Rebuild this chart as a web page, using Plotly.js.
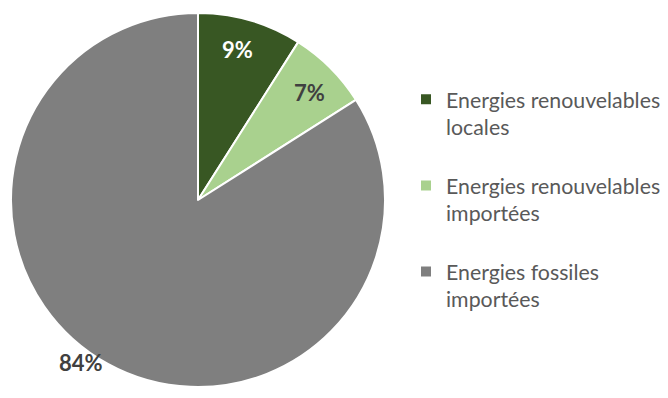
<!DOCTYPE html>
<html>
<head>
<meta charset="utf-8">
<script src="https://cdn.plot.ly/plotly-3.0.1.min.js"></script>
<style>html,body{margin:0;padding:0;background:#fff;}#chart{width:668px;height:398px;}</style>
</head>
<body>
<div id="chart"></div>
<script>
const categories = ["Energies renouvelables<br>locales<br>\u00a0", "Energies renouvelables<br>importées<br>\u00a0", "Energies fossiles<br>importées"];
const values = [9, 7, 84];
const colors = ["#385723", "#a9d18e", "#7f7f7f"];
const labelColors = ["#ffffff", "#404040", "#404040"];

const W = 668, H = 398;
const cx = 198, cy = 200, R = 187;

const trace = {
  type: "pie",
  labels: categories,
  values: values,
  textinfo: "none",
  sort: false,
  direction: "clockwise",
  rotation: 0,
  marker: {colors: colors, line: {color: "#ffffff", width: 2}},
  hoverinfo: "none",
  domain: {x: [(cx - R) / W, (cx + R) / W], y: [1 - (cy + R) / H, 1 - (cy - R) / H]}
};

// data labels placed along each slice's mid-angle
const total = values.reduce((a, b) => a + b, 0);
const radial = [0.83, 0.83, 1.07];
const angOffset = [-1.5, 1, 7];
let cum = 0;
const annotations = values.map((v, i) => {
  const mid = (cum + v / 2) / total * 360 + angOffset[i];
  cum += v;
  const th = mid * Math.PI / 180;
  const px = cx + radial[i] * R * Math.sin(th);
  const py = cy - radial[i] * R * Math.cos(th);
  return {
    x: px / W, y: 1 - py / H, xref: "paper", yref: "paper",
    xanchor: "center", yanchor: "middle", showarrow: false,
    text: Math.round(v / total * 100) + "%",
    font: {family: "Lato, sans-serif", size: 22, color: labelColors[i], weight: "bold"}
  };
});

const layout = {
  width: W, height: H,
  margin: {l: 0, r: 0, t: 0, b: 0},
  paper_bgcolor: "#ffffff",
  showlegend: true,
  annotations: annotations,
  legend: {
    x: 406 / W, xanchor: "left",
    y: 1 - 79 / H, yanchor: "top",
    valign: "top",
    font: {family: "Lato, sans-serif", size: 21.3, color: "#595959"},
    bgcolor: "rgba(0,0,0,0)",
    traceorder: "normal"
  }
};

Plotly.newPlot("chart", [trace], layout, {staticPlot: true, displayModeBar: false});
</script>
</body>
</html>
